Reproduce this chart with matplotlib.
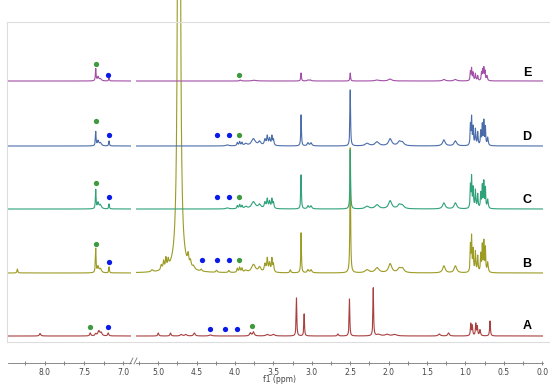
import numpy as np
import matplotlib.pyplot as plt
from matplotlib.lines import Line2D

# stacked 1H NMR spectra, peaks as (ppm, height, half width)
labels = ["A", "B", "C", "D", "E"]
colors = ["#a8403f", "#9c9b24", "#2fa27a", "#4a6daa", "#a24fa6"]

peaks_a = [
    (8.06, 2.5, 0.01), (7.42, 3, 0.008), (7.35, 2, 0.01), (7.31, 5, 0.015), (7.28, 3, 0.012),
    (7.19, 3, 0.008),
    (5.00, 3, 0.008), (4.84, 3, 0.008), (4.70, 1.5, 0.015), (4.64, 1.5, 0.015), (4.53, 3, 0.012),
    (4.32, 1, 0.02), (3.80, 3, 0.012), (3.76, 4, 0.012), (3.58, 1.5, 0.02), (3.50, 1.5, 0.02),
    (3.20, 38, 0.005), (3.10, 22, 0.005), (2.66, 2, 0.008), (2.51, 37, 0.005),
    (2.20, 48, 0.005), (2.13, 1.5, 0.03), (2.02, 1.5, 0.03), (1.92, 1.5, 0.03),
    (1.34, 2, 0.015), (1.22, 3, 0.012),
    (0.93, 12, 0.006), (0.91, 10, 0.006), (0.865, 12, 0.006), (0.845, 9, 0.006),
    (0.81, 6, 0.008), (0.68, 15, 0.006),
]

peaks_b = [
    (8.35, 4, 0.006), (7.35, 24, 0.005), (7.32, 6, 0.01), (7.29, 4, 0.015), (7.18, 6, 0.005),
    (5.08, 2, 0.015), (4.96, 5, 0.01), (4.93, 8, 0.008), (4.90, 10, 0.008), (4.87, 7, 0.008),
    (4.73, 2400, 0.008), (4.61, 10, 0.01), (4.58, 6, 0.01), (4.54, 3, 0.015),
    (4.44, 2, 0.01), (4.24, 2, 0.01), (4.08, 2, 0.01),
    (3.97, 4, 0.008), (3.94, 5, 0.008), (3.91, 4, 0.008), (3.86, 2, 0.02),
    (3.76, 8, 0.03), (3.68, 5, 0.02), (3.61, 8, 0.012), (3.58, 13, 0.008), (3.55, 9, 0.01),
    (3.52, 13, 0.007), (3.50, 8, 0.008),
    (3.28, 3, 0.008), (3.14, 40, 0.005), (3.05, 3, 0.012), (3.01, 3, 0.012),
    (2.50, 125, 0.005), (2.28, 3, 0.03), (2.15, 5, 0.03), (1.98, 9, 0.025),
    (1.86, 4, 0.025), (1.82, 4, 0.025), (1.28, 7, 0.02), (1.13, 7, 0.02),
    (0.935, 26, 0.005), (0.92, 34, 0.005), (0.90, 22, 0.006), (0.87, 20, 0.006),
    (0.84, 16, 0.006), (0.80, 18, 0.006), (0.78, 26, 0.005), (0.76, 30, 0.005),
    (0.74, 24, 0.005), (0.71, 10, 0.008),
]

peaks_c = [
    (7.35, 19, 0.005), (7.32, 6, 0.01), (7.29, 4, 0.015), (7.18, 5, 0.005),
    (4.10, 1, 0.02), (3.97, 3, 0.008), (3.94, 4, 0.008), (3.91, 3, 0.008), (3.86, 2, 0.02),
    (3.76, 7, 0.03), (3.68, 4, 0.02), (3.61, 6, 0.012), (3.58, 9, 0.008), (3.55, 7, 0.01),
    (3.52, 9, 0.007), (3.50, 6, 0.008),
    (3.14, 34, 0.005), (3.05, 3, 0.012), (3.01, 3, 0.012),
    (2.50, 59, 0.005), (2.28, 2.5, 0.03), (2.15, 4, 0.03), (1.98, 8, 0.025),
    (1.86, 4, 0.025), (1.82, 3, 0.025), (1.28, 6, 0.02), (1.13, 6, 0.02),
    (0.935, 22, 0.005), (0.92, 30, 0.005), (0.90, 20, 0.006), (0.87, 18, 0.006),
    (0.84, 14, 0.006), (0.80, 15, 0.006), (0.78, 22, 0.005), (0.76, 26, 0.005),
    (0.74, 20, 0.005), (0.71, 9, 0.008),
]

peaks_d = [
    (7.35, 14, 0.005), (7.32, 5, 0.01), (7.29, 3, 0.015), (7.18, 5, 0.005),
    (4.10, 1, 0.02), (3.97, 3, 0.008), (3.94, 4, 0.008), (3.91, 3, 0.008), (3.86, 2, 0.02),
    (3.76, 7, 0.03), (3.68, 4, 0.02), (3.61, 6, 0.012), (3.58, 9, 0.008), (3.55, 7, 0.01),
    (3.52, 9, 0.007), (3.50, 6, 0.008),
    (3.14, 31, 0.005), (3.05, 3, 0.012), (3.01, 3, 0.012),
    (2.50, 56, 0.005), (2.28, 2.5, 0.03), (2.15, 4, 0.03), (1.98, 7, 0.025),
    (1.86, 4, 0.025), (1.82, 3, 0.025), (1.28, 6, 0.02), (1.13, 5, 0.02),
    (0.935, 20, 0.005), (0.92, 27, 0.005), (0.90, 18, 0.006), (0.87, 16, 0.006),
    (0.84, 13, 0.006), (0.80, 14, 0.006), (0.78, 20, 0.005), (0.76, 24, 0.005),
    (0.74, 18, 0.005), (0.71, 8, 0.008),
]

peaks_e = [
    (7.35, 12, 0.005), (7.32, 4, 0.01), (7.29, 2, 0.015), (7.18, 3, 0.005),
    (3.93, 1, 0.01), (3.75, 0.8, 0.03), (3.14, 8, 0.005), (3.05, 1, 0.012), (3.02, 1, 0.012),
    (2.50, 8, 0.005), (2.15, 1, 0.03), (1.98, 2, 0.025), (1.28, 1.5, 0.02), (1.13, 1.5, 0.02),
    (0.935, 9, 0.005), (0.92, 12, 0.005), (0.90, 8, 0.006), (0.87, 7, 0.006),
    (0.84, 5, 0.006), (0.79, 8, 0.006), (0.775, 10, 0.005), (0.76, 12, 0.005),
    (0.745, 9, 0.005), (0.72, 5, 0.008),
]
all_peaks = [peaks_a, peaks_b, peaks_c, peaks_d, peaks_e]

# marker dots: (ppm, height above baseline)
green_dots = [
    [(7.42, 9), (3.78, 10)],
    [(7.35, 29), (3.95, 13)],
    [(7.35, 26), (3.95, 12)],
    [(7.35, 25), (3.95, 11)],
    [(7.35, 17), (3.95, 6)],
]
blue_dots = [
    [(7.19, 9), (4.32, 7), (4.13, 7), (3.97, 7)],
    [(7.18, 11), (4.43, 13), (4.23, 13), (4.08, 13)],
    [(7.18, 12), (4.23, 12), (4.08, 12)],
    [(7.18, 11), (4.23, 11), (4.08, 11)],
    [(7.19, 6)],
]

baselines = [27, 90, 154, 217, 282]


def spectrum(ppm, peaks):
    y = np.zeros_like(ppm)
    for c, h, w in peaks:
        y += h * w ** 2 / ((ppm - c) ** 2 + w ** 2)
    return y


W, H = 550, 384
fig = plt.figure(figsize=(W / 100, H / 100), dpi=100)
ax_l = fig.add_axes([8 / W, 21 / H, 123 / W, 363 / H])
ax_r = fig.add_axes([136 / W, 21 / H, 407 / W, 363 / H])
ax_l.set_xlim(8.47, 6.90)
ax_r.set_xlim(5.29, -0.01)

for ax, lo, hi in [(ax_l, 6.90, 8.47), (ax_r, -0.01, 5.29)]:
    ppm = np.arange(lo, hi, 0.0005)
    for i in range(5):
        y = spectrum(ppm, all_peaks[i]) + baselines[i]
        ax.plot(ppm, y, color=colors[i], lw=0.8)
        for p, h in green_dots[i]:
            if lo < p < hi:
                ax.plot(p, baselines[i] + h, "o", color="#3f9a3f", ms=3.8, mec="none")
        for p, h in blue_dots[i]:
            if lo < p < hi:
                ax.plot(p, baselines[i] + h, "o", color="#0a1ae8", ms=3.8, mec="none")
    ax.set_ylim(0, 363)
    ax.set_yticks([])
    for s in ["top", "left", "right"]:
        ax.spines[s].set_visible(False)
    ax.spines["bottom"].set_color("#777777")
    ax.spines["bottom"].set_linewidth(0.6)
    ax.patch.set_alpha(0)
    ax.tick_params(axis="x", which="both", direction="inout", color="#777777",
                   width=0.6, labelsize=5.5, labelcolor="#444444", pad=2)
    ax.tick_params(axis="x", which="major", length=3)
    ax.tick_params(axis="x", which="minor", length=3)

ax_l.set_xticks([8.0, 7.5, 7.0])
ax_l.set_xticks([8.25, 7.75, 7.25], minor=True)
ax_r.set_xticks([5.0, 4.5, 4.0, 3.5, 3.0, 2.5, 2.0, 1.5, 1.0, 0.5, 0.0])
ax_r.set_xticks([5.25, 4.75, 4.25, 3.75, 3.25, 2.75, 2.25, 1.75, 1.25, 0.75, 0.25], minor=True)
ax_l.set_xticklabels(["8.0", "7.5", "7.0"])
ax_r.set_xticklabels(["5.0", "4.5", "4.0", "3.5", "3.0", "2.5", "2.0", "1.5", "1.0", "0.5", "0.0"])

fig.text(280 / W, 4 / H, "f1 (ppm)", fontsize=5.5, color="#444444", ha="center", va="center")

# break marks on the ppm axis
for bx in [130, 134]:
    fig.add_artist(Line2D([bx / W, (bx + 3) / W], [(H - 364) / H, (H - 358) / H],
                          color="#777777", lw=0.6))

# light frame round the spectra
frame = dict(color="#dddddd", lw=0.8)
fig.add_artist(Line2D([7 / W, 1], [(H - 22) / H] * 2, **frame))
fig.add_artist(Line2D([7 / W, 1], [(H - 342) / H] * 2, **frame))
fig.add_artist(Line2D([7 / W] * 2, [(H - 22) / H, (H - 342) / H], **frame))

label_y = [326, 264, 200, 137, 73]
for i in range(5):
    fig.text(527 / W, 1 - label_y[i] / H, labels[i], fontsize=9, fontweight="bold",
             family="Liberation Sans", ha="center", va="center", color="black")

fig.savefig("out.png", dpi=100)
